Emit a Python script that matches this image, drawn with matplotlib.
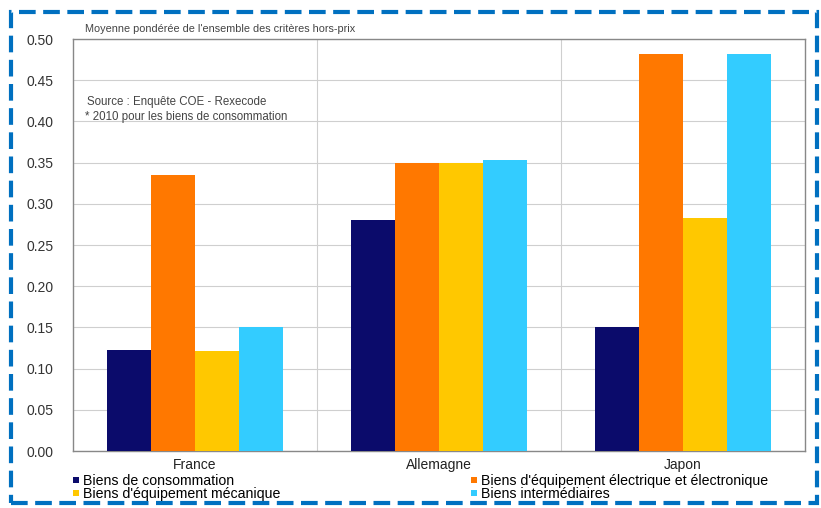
import matplotlib.pyplot as plt
import numpy as np
from matplotlib.patches import Rectangle
from matplotlib.lines import Line2D

plt.rcParams['font.family'] = ['Liberation Sans', 'DejaVu Sans']

countries = ["France", "Allemagne", "Japon"]
series = ["Biens de consommation",
          "Biens d'équipement électrique et électronique",
          "Biens d'équipement mécanique",
          "Biens intermédiaires"]
conso = [0.123, 0.280, 0.151]
electrique = [0.335, 0.350, 0.482]
mecanique = [0.121, 0.350, 0.283]
intermediaires = [0.150, 0.353, 0.482]
values = [conso, electrique, mecanique, intermediaires]
colors = ["#0B0B6B", "#FF7800", "#FFC800", "#33CCFF"]
yticks = [0.00, 0.05, 0.10, 0.15, 0.20, 0.25, 0.30, 0.35, 0.40, 0.45, 0.50]

fig = plt.figure(figsize=(8.21, 5.08), dpi=100)
ax = fig.add_axes([0.089, 0.1122, 0.8915, 0.8108])

x = np.arange(len(countries))
w = 0.18
for i, (vals, c) in enumerate(zip(values, colors)):
    ax.bar(x + (i - 1.5) * w, vals, width=w, color=c, zorder=3, linewidth=0)

ax.set_xlim(-0.5, 2.5)
ax.set_ylim(0, 0.5)
ax.set_yticks(yticks)
ax.set_yticklabels([f"{v:.2f}" for v in yticks], fontsize=10, color="#333333")
ax.set_xticks(x)
ax.set_xticklabels(countries, fontsize=10, color="#222222")
ax.tick_params(axis='y', length=0, pad=14)
ax.tick_params(axis='x', length=0, pad=5)
ax.yaxis.grid(True, color="#cfcfcf", linewidth=0.8, zorder=0)
for b in [0.5, 1.5]:
    ax.axvline(b, color="#cfcfcf", linewidth=0.8, zorder=0)
for s in ax.spines.values():
    s.set_color("#888888")
    s.set_linewidth(1.0)

fig.text(0.104, 0.934, "Moyenne pondérée de l'ensemble des critères hors-prix",
         fontsize=7.8, color="#444444", va='bottom', ha='left')
ax.text(0.019, 0.848, "Source : Enquête COE - Rexecode", transform=ax.transAxes,
        fontsize=8.3, color="#444444", va='center')
ax.text(0.016, 0.812, "* 2010 pour les biens de consommation", transform=ax.transAxes,
        fontsize=8.3, color="#444444", va='center')

order = [0, 2, 1, 3]
handles = [Line2D([], [], marker='s', linestyle='none', markersize=5,
                  markerfacecolor=colors[i], markeredgewidth=0) for i in order]
labels = [series[i] for i in order]
fig.legend(handles, labels, ncol=2, loc='upper left', bbox_to_anchor=(0.088, 0.067),
           frameon=False, fontsize=10.2, handlelength=0.6, handletextpad=0.15,
           columnspacing=13.4, labelspacing=-0.08, borderpad=0, borderaxespad=0)

border = Rectangle((0.013, 0.01), 0.982, 0.966, transform=fig.transFigure,
                   fill=False, edgecolor="#0070C0", linewidth=3,
                   linestyle=(0, (4, 1.8)), zorder=-1)
fig.patches.append(border)

fig.savefig("out.png", dpi=100)
